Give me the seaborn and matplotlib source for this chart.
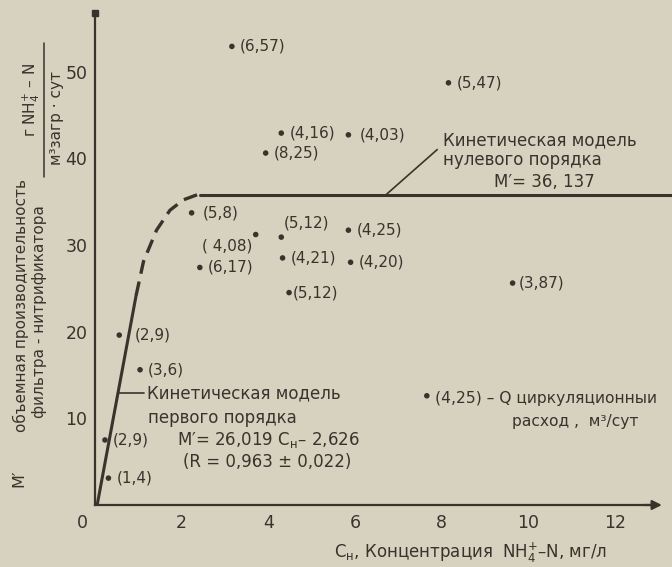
import numpy as np
import matplotlib
matplotlib.use("Agg")
import matplotlib.pyplot as plt
from matplotlib.lines import Line2D
from matplotlib.transforms import ScaledTranslation
import seaborn as sns

# measured points: concentration C_н (мг/л) vs M' with Q labels
point_x = [3.16, 8.16, 4.30, 5.85, 3.94, 2.23, 4.30, 5.85, 3.71, 4.33, 5.90, 2.42, 4.48, 9.64, 0.56, 1.04, 0.23, 0.31]
point_y = [52.9, 48.7, 42.9, 42.7, 40.6, 33.7, 30.9, 31.7, 31.2, 28.5, 28.0, 27.4, 24.5, 25.6, 19.6, 15.6, 7.5, 3.1]
point_labels = ["(6,57)", "(5,47)", "(4,16)", "(4,03)", "(8,25)", "(5,8)", "(5,12)", "(4,25)", "( 4,08)",
                "(4,21)", "(4,20)", "(6,17)", "(5,12)", "(3,87)", "(2,9)", "(3,6)", "(2,9)", "(1,4)"]

# first order model (solid part), transition (dashed), zero order plateau
first_x = [0.05, 0.95]
first_y = [0.0, 24.2]
trans_x = [0.95, 1.12, 1.42, 1.73, 2.04, 2.42]
trans_y = [24.2, 28.1, 31.7, 34.0, 35.2, 35.9]
zero_x = [2.42, 13.32]
zero_y = [35.8, 35.8]

# key sample point
key_x = [7.66]
key_y = [12.6]

x_major = [0, 2, 4, 6, 8, 10, 12]
x_minor = [1, 3, 5, 7, 9, 11]
y_major = [10, 20, 30, 40, 50]
y_minor = [5, 15, 25, 35, 45, 55]

paper = "#d7d1bf"
ink = "#3a332d"

sns.set_theme(style="white", rc={"axes.facecolor": paper, "figure.facecolor": paper,
                                 "text.color": ink, "axes.edgecolor": ink,
                                 "xtick.color": ink, "ytick.color": ink})
plt.rcParams["font.family"] = ["DejaVu Sans"]

fig = plt.figure(figsize=(6.72, 5.67), dpi=100)
ax = fig.add_axes([95 / 672, 1 - 505 / 567, 577 / 672, 495 / 567])

sns.lineplot(x=first_x, y=first_y, ax=ax, color=ink, lw=2.2, sort=False, estimator=None)
sns.lineplot(x=trans_x, y=trans_y, ax=ax, color=ink, lw=2.4, sort=False, estimator=None,
             linestyle=(0, (4.2, 2.4)))
sns.lineplot(x=zero_x, y=zero_y, ax=ax, color=ink, lw=2.2, sort=False, estimator=None, clip_on=False)

sns.scatterplot(x=point_x + key_x, y=point_y + key_y, ax=ax, color=ink, s=16, edgecolor="none", zorder=5)

# label offsets in pixels (dx, dy)
offsets = {i: (8, 0) for i in range(len(point_labels))}
offsets[3] = (11, 0)
offsets[5] = (11, 0)
offsets[6] = (2, 14)
offsets[8] = (-3, -11)
offsets[12] = (4, 0)
offsets[13] = (6, 0)
offsets[14] = (15, 0)
for i, (px, py, lab) in enumerate(zip(point_x, point_y, point_labels)):
    dx, dy = offsets[i]
    ax.annotate(lab, (px, py), xytext=(dx * 0.72, dy * 0.72), textcoords="offset points",
                ha="right" if dx < 0 else "left", va="center", fontsize=11, color=ink)

# annotations
ax.plot([6.72, 7.90], [35.8, 41.0], color=ink, lw=1.2)
ax.text(8.04, 42.1, "Кинетическая модель", fontsize=12, va="center", color=ink)
ax.text(8.04, 39.8, "нулевого порядка", fontsize=12, va="center", color=ink)
ax.text(9.2, 37.3, "M′= 36, 137", fontsize=12, va="center", color=ink)

ax.plot([0.54, 1.12], [12.9, 12.9], color=ink, lw=1.2)
ax.text(1.19, 12.9, "Кинетическая модель", fontsize=12, va="center", color=ink)
ax.text(1.22, 10.0, "первого порядка", fontsize=12, va="center", color=ink)
ax.text(1.9, 7.5, r"M′= 26,019 C$_\mathregular{н}$– 2,626", fontsize=12, va="center", color=ink)
ax.text(2.04, 5.0, "(R = 0,963 ± 0,022)", fontsize=12, va="center", color=ink)

ax.text(7.85, 12.3, "(4,25) – Q циркуляционныи", fontsize=11.2, va="center", color=ink)
ax.text(9.62, 9.6, "расход ,  м³/сут", fontsize=11.2, va="center", color=ink)

# axes styling
ax.set_xlim(0, 13.32)
ax.set_ylim(0, 57.1)
for s in ["top", "right"]:
    ax.spines[s].set_visible(False)
ax.spines["bottom"].set_bounds(0, 13.0)
ax.spines["left"].set_bounds(0, 56.7)
ax.spines["bottom"].set_linewidth(1.6)
ax.spines["left"].set_linewidth(1.6)
ax.annotate("", xy=(13.15, 0), xytext=(12.6, 0),
            arrowprops=dict(arrowstyle="-|>", color=ink, lw=1.6, mutation_scale=14),
            annotation_clip=False)
ax.plot([0], [56.7], "s", color=ink, ms=5, clip_on=False)

ax.set_xticks(x_major)
ax.set_xticks(x_minor, minor=True)
ax.set_yticks(y_major)
ax.set_yticks(y_minor, minor=True)
ax.tick_params(axis="x", which="major", direction="inout", length=7, width=1.3, labelsize=12.5, pad=3)
ax.tick_params(axis="x", which="minor", direction="in", length=4, width=1.3)
ax.tick_params(axis="y", which="major", direction="inout", length=7, width=1.3, labelsize=12.5, pad=2)
ax.tick_params(axis="y", which="minor", direction="in", length=4, width=1.3)
ax.set_xlabel("")
ax.set_ylabel("")
zero_lab = ax.get_xticklabels()[0]
zero_lab.set_transform(zero_lab.get_transform() + ScaledTranslation(-0.13, 0, fig.dpi_scale_trans))

ax.text((471 - 95) / 577, (505 - 553) / 495,
        r"C$_\mathregular{н}$, Концентрация  NH$_\mathregular{4}^\mathregular{+}$–N, мг/л",
        transform=ax.transAxes, ha="center", va="center", fontsize=12, color=ink)

# rotated y label with fraction
def ftext(px, py, s, **kw):
    fig.text(px / 672, 1 - py / 567, s, rotation=90, ha="center", va="center", color=ink, **kw)

ftext(19, 478, "M′", fontsize=11.5)
ftext(21, 305, "объемная производительность", fontsize=11)
ftext(40, 312, "фильтра - нитрификатора", fontsize=11)
ftext(31, 100, r"г NH$_\mathregular{4}^\mathregular{+}$ – N", fontsize=11)
ftext(57, 118, "м³загр · сут", fontsize=11)
fig.add_artist(Line2D([44 / 672, 44 / 672], [1 - 43 / 567, 1 - 177 / 567],
                      transform=fig.transFigure, color=ink, lw=1.1))

fig.savefig("out.png", dpi=100, facecolor=paper)
